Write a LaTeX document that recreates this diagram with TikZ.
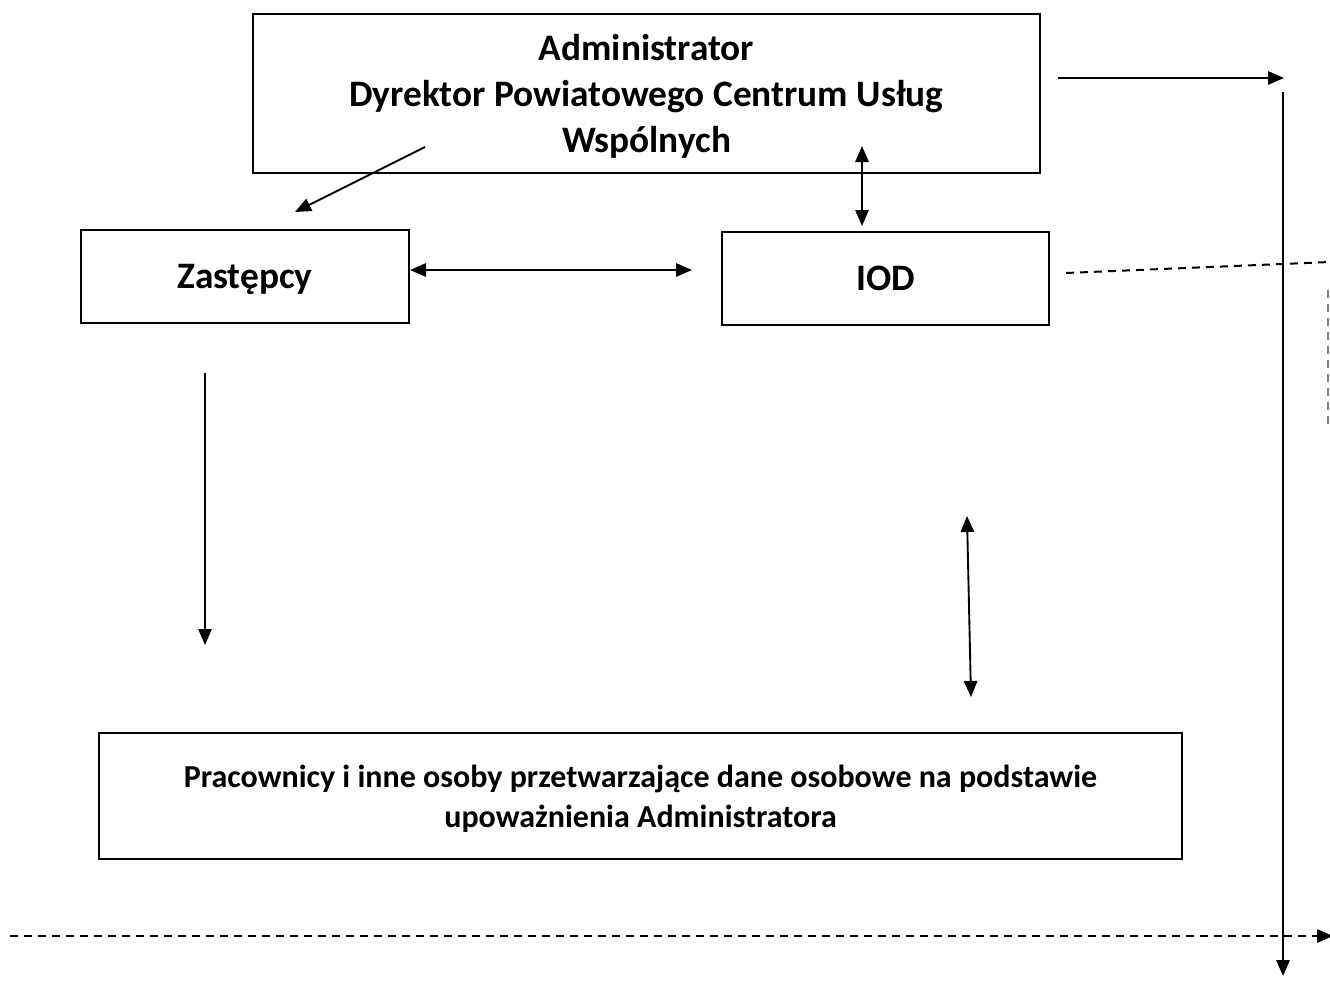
\documentclass[tikz,border=0pt]{standalone}
\usepackage{fontspec}
\setmainfont{Carlito}
\usetikzlibrary{arrows.meta}

\begin{document}
\begin{tikzpicture}[x=0.75pt,y=-0.75pt,
    box/.style={draw,line width=1.3pt,inner sep=0pt,align=center,text depth=0pt,font=\bfseries},
    arr/.style={line width=1.4pt,-{Triangle[length=12pt,width=10pt]}},
    darr/.style={line width=1.4pt,{Triangle[length=12pt,width=10pt]}-{Triangle[length=12pt,width=10pt]}},
    dashline/.style={line width=1.5pt,dash pattern=on 6pt off 4.5pt}]
    \useasboundingbox (0,0) rectangle (1330,982);

    \node[box,minimum width=590.25pt,minimum height=119.25pt,font=\bfseries\fontsize{28}{34.5}\selectfont]
        (adm) at (646.5,93.5) {Administrator\\Dyrektor Powiatowego Centrum Usług\\Wspólnych};
    \node[box,minimum width=246pt,minimum height=69.75pt,font=\bfseries\fontsize{28}{30}\selectfont]
        (zast) at (245,276.5) {Zastępcy};
    \node[box,minimum width=245.25pt,minimum height=69.75pt,font=\bfseries\fontsize{28}{30}\selectfont]
        (iod) at (885.5,278.5) {IOD};
    \node[box,minimum width=812.25pt,minimum height=94.5pt,font=\bfseries\fontsize{24}{30}\selectfont]
        (prac) at (640.5,796) {Pracownicy i inne osoby przetwarzające dane osobowe na podstawie\\upoważnienia Administratora};

    \coordinate (a1) at (1058,78);
    \coordinate (a2) at (1284,78);
    \coordinate (r1) at (1283,92);
    \coordinate (r2) at (1283,976);
    \coordinate (d1) at (425,147);
    \coordinate (d2) at (295,212);
    \coordinate (i1) at (862,146);
    \coordinate (i2) at (862,226);
    \coordinate (z1) at (410,270);
    \coordinate (z2) at (692,270);
    \coordinate (z3) at (205,373);
    \coordinate (z4) at (205,645);
    \coordinate (p1) at (967,516);
    \coordinate (p2) at (971,697);
    \coordinate (e1) at (1066,273);
    \coordinate (e2) at (1330,262);
    \coordinate (v1) at (1328,290);
    \coordinate (v2) at (1328,430);
    \coordinate (b1) at (10,936);
    \coordinate (b2) at (1333,936);

    \draw[arr] (a1) -- (a2);
    \draw[arr] (r1) -- (r2);
    \draw[arr] (d1) -- (d2);
    \draw[darr] (i1) -- (i2);
    \draw[darr] (z1) -- (z2);
    \draw[arr] (z3) -- (z4);
    \draw[darr] (p1) -- (p2);
    \draw[dashline] (e1) -- (e2);
    \draw[dashline,line width=1pt,black!50] (v1) -- (v2);
    \draw[dashline,-{Triangle[length=12pt,width=10pt]}] (b1) -- (b2);
\end{tikzpicture}
\end{document}
